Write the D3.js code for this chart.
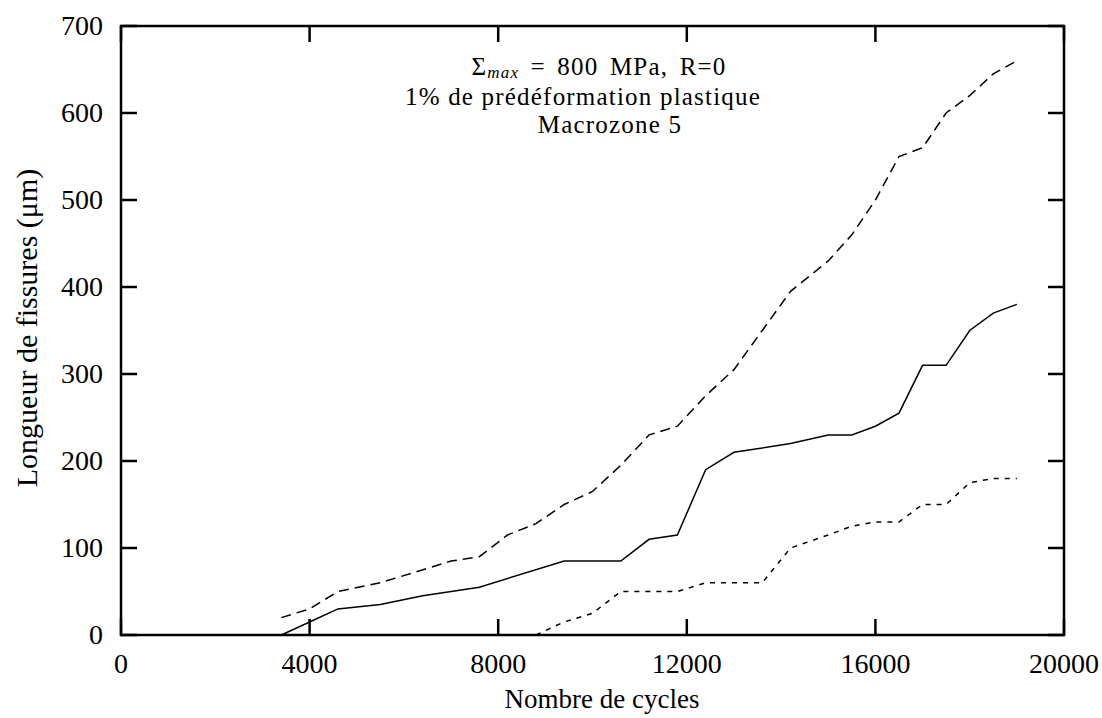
<!DOCTYPE html>
<html><head><meta charset="utf-8">
<script src="https://cdn.jsdelivr.net/npm/d3@7"></script>
<style>
body{margin:0;background:#fff;}
text{font-family:"Liberation Serif","Times New Roman",serif;fill:#000;}
</style></head>
<body><svg id="chart" width="1102" height="718"></svg>
<script>
// Data
const meanX  = [3400,4000,4600,5500,6400,7600,9400,10600,11200,11800,12400,13000,14200,15000,15500,16000,16500,17000,17500,18000,18500,19000];
const meanY  = [0,15,30,35,45,55,85,85,110,115,190,210,220,230,230,240,255,310,310,350,370,380];
const upperX = [3400,4000,4600,5500,7000,7600,8200,8800,9400,10000,10600,11200,11800,12400,13000,13600,14200,15000,15500,16000,16500,17000,17500,18000,18500,19000];
const upperY = [20,30,50,60,85,90,115,128,150,165,195,230,240,275,305,350,395,430,460,500,550,560,600,620,645,660];
const lowerX = [8800,9400,10000,10600,11200,11800,12400,13000,13600,14200,15000,15500,16000,16500,17000,17500,18000,18500,19000];
const lowerY = [0,15,25,50,50,50,60,60,60,100,115,125,130,130,150,150,175,180,180];
const xTicks = [0,4000,8000,12000,16000,20000];
const yTicks = [0,100,200,300,400,500,600,700];
const titleLines = ["= 800 MPa, R=0","1% de prédéformation plastique","Macrozone 5"];
const xLabel = "Nombre de cycles";
const yLabel = "Longueur de fissures (μm)";

const svg = d3.select("#chart");
const L=121, R=1064, T=26, B=635;
const x = d3.scaleLinear().domain([0,20000]).range([L,R]);
const y = d3.scaleLinear().domain([0,700]).range([B,T]);
const tl = 16;
const g = svg.append("g");

// ticks (inward, all four sides)
const tk = g.append("g").attr("stroke","#000").attr("stroke-width",2.5);
xTicks.forEach(v=>{
  tk.append("line").attr("x1",x(v)).attr("x2",x(v)).attr("y1",B).attr("y2",B-tl);
  tk.append("line").attr("x1",x(v)).attr("x2",x(v)).attr("y1",T).attr("y2",T+tl);
});
yTicks.forEach(v=>{
  tk.append("line").attr("x1",L).attr("x2",L+tl).attr("y1",y(v)).attr("y2",y(v));
  tk.append("line").attr("x1",R).attr("x2",R-tl).attr("y1",y(v)).attr("y2",y(v));
});
g.append("rect").attr("x",L).attr("y",T).attr("width",R-L).attr("height",B-T)
  .attr("fill","none").attr("stroke","#000").attr("stroke-width",2.5);

// tick labels
g.selectAll(".xl").data(xTicks).enter().append("text")
  .attr("x",d=>x(d)).attr("y",673).attr("text-anchor","middle").attr("font-size",28).text(d=>d);
g.selectAll(".yl").data(yTicks).enter().append("text")
  .attr("x",103).attr("y",d=>y(d)+9).attr("text-anchor","end").attr("font-size",28).text(d=>d);

// axis labels
g.append("text").attr("x",602).attr("y",708).attr("text-anchor","middle").attr("font-size",27).text(xLabel);
g.append("text").attr("transform","translate(37,328) rotate(-90)").attr("text-anchor","middle").attr("font-size",30).text(yLabel);

// title block (one text, three lines)
const t = g.append("text").attr("text-anchor","middle").attr("font-size",25).attr("letter-spacing",1.2);
const l1 = t.append("tspan").attr("x",599).attr("y",75);
l1.append("tspan").text("Σ");
l1.append("tspan").attr("font-style","italic").attr("font-size",17).attr("dy",3).text("max");
l1.append("tspan").attr("dy",-3).attr("word-spacing",4).text(" "+titleLines[0]);
t.append("tspan").attr("x",583).attr("y",105).text(titleLines[1]);
t.append("tspan").attr("x",610).attr("y",133).text(titleLines[2]);

// lines
const line = d3.line().x(d=>x(d[0])).y(d=>y(d[1]));
const mk = (xs,ys)=>xs.map((v,i)=>[v,ys[i]]);
g.append("path").datum(mk(upperX,upperY)).attr("d",line).attr("fill","none").attr("stroke","#000").attr("stroke-width",1.5).attr("stroke-dasharray","10,6");
g.append("path").datum(mk(meanX,meanY)).attr("d",line).attr("fill","none").attr("stroke","#000").attr("stroke-width",1.5);
g.append("path").datum(mk(lowerX,lowerY)).attr("d",line).attr("fill","none").attr("stroke","#000").attr("stroke-width",1.5).attr("stroke-dasharray","5,6");
</script></body></html>
